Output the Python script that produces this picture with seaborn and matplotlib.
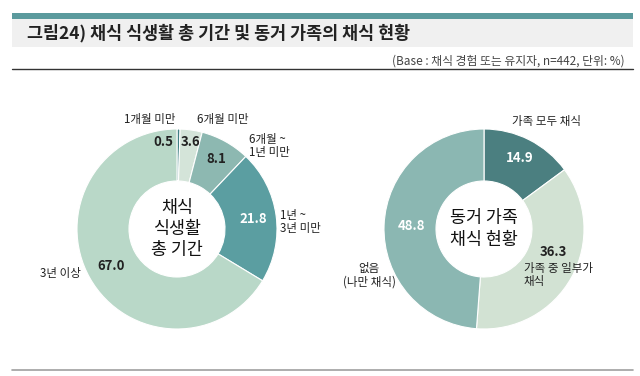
import numpy as np
import matplotlib
matplotlib.use("Agg")
import matplotlib.pyplot as plt
import seaborn as sns

# Data
period_labels = ["1개월 미만", "6개월 미만", "6개월 ~\n1년 미만", "1년 ~\n3년 미만", "3년 이상"]
period_values = [0.5, 3.6, 8.1, 21.8, 67.0]
period_colors = ["#3f7f84", "#d4e4d9", "#8db8b1", "#5b9ea1", "#b9d8c8"]

family_labels = ["가족 모두 채식", "가족 중 일부가\n채식", "없음\n(나만 채식)"]
family_values = [14.9, 36.3, 48.8]
family_colors = ["#4b7f80", "#d2e2d3", "#8bb7b2"]

title = "그림24) 채식 식생활 총 기간 및 동거 가족의 채식 현황"
subtitle = "(Base : 채식 경험 또는 유지자, n=442, 단위: %)"

sns.set_theme(style="white")
plt.rcParams["font.family"] = ["Noto Sans CJK KR", "DejaVu Sans"]

W, H = 640, 376
fig = plt.figure(figsize=(W / 100, H / 100), dpi=100)
ax = fig.add_axes([0, 0, 1, 1])
ax.set_xlim(0, W)
ax.set_ylim(0, H)
ax.axis("off")

# Header: teal bar, grey band, rules
ax.fill_between([12, 633], H - 19, H - 13, color="#5b9a9d", lw=0)
ax.fill_between([12, 633], H - 47, H - 19, color="#f0f0f0", lw=0)
ax.plot([12, 633], [H - 69, H - 69], color="#333333", lw=1)
ax.plot([12, 633], [H - 370, H - 370], color="#a0a0a0", lw=1.2)
ax.text(27, H - 33, title, fontsize=12.5, fontweight="bold", color="#222222",
        va="center", ha="left")
ax.text(625, H - 61, subtitle, fontsize=8.5, color="#444444", va="center", ha="right")

R = 100
ring = 0.52
label_fs = 8.3


def donut(cx, cy, values, colors, text_colors, nudges):
    wedges, _ = ax.pie(values, colors=colors, startangle=90, counterclock=False,
                       center=(cx, cy), radius=R,
                       wedgeprops=dict(width=R * ring, edgecolor="white", linewidth=0.8))
    for w, v, tc, (dx, dy, rf) in zip(wedges, values, text_colors, nudges):
        ang = np.deg2rad((w.theta1 + w.theta2) / 2)
        x = cx + R * rf * np.cos(ang) + dx
        y = cy + R * rf * np.sin(ang) + dy
        ax.text(x, y, f"{v:.1f}", fontsize=9.5, fontweight="bold", color=tc,
                ha="center", va="center")
    ax.set_xlim(0, W)
    ax.set_ylim(0, H)
    ax.set_aspect("auto")


# Left donut
lcx, lcy = 177, H - 229
donut(lcx, lcy, period_values, period_colors,
      ["#222222", "#222222", "#222222", "white", "#222222"],
      [(-15, 0, 0.87), (1, 0, 0.88), (0, 0, 0.8), (0, 0, 0.77), (0, 0, 0.76)])
ax.text(lcx, lcy, "채식\n식생활\n총 기간", fontsize=12.5, color="#111111",
        ha="center", va="center", linespacing=1.25)
ax.text(150, H - 119, period_labels[0], fontsize=label_fs, color="#222222", ha="center", va="center")
ax.text(223, H - 119, period_labels[1], fontsize=label_fs, color="#222222", ha="center", va="center")
ax.text(249, H - 146, period_labels[2], fontsize=label_fs, color="#222222", ha="left", va="center",
        linespacing=1.05)
ax.text(280, H - 222, period_labels[3], fontsize=label_fs, color="#222222", ha="left", va="center",
        linespacing=1.05)
ax.text(60, H - 273, period_labels[4], fontsize=label_fs, color="#222222", ha="center", va="center")

# Right donut
rcx, rcy = 484, H - 229
donut(rcx, rcy, family_values, family_colors,
      ["white", "#222222", "white"],
      [(0, 0, 0.8), (-2, 17, 0.82), (0, 0, 0.73)])
ax.text(rcx, rcy, "동거 가족\n채식 현황", fontsize=12.5, color="#111111",
        ha="center", va="center", linespacing=1.25)
ax.text(546, H - 121, family_labels[0], fontsize=label_fs, color="#222222", ha="center", va="center")
ax.text(524, H - 275, family_labels[1], fontsize=label_fs, color="#222222", ha="left", va="center",
        linespacing=1.05)
ax.text(369, H - 275, family_labels[2], fontsize=label_fs, color="#222222", ha="center", va="center",
        linespacing=1.05)

fig.savefig("out.png", dpi=100)
